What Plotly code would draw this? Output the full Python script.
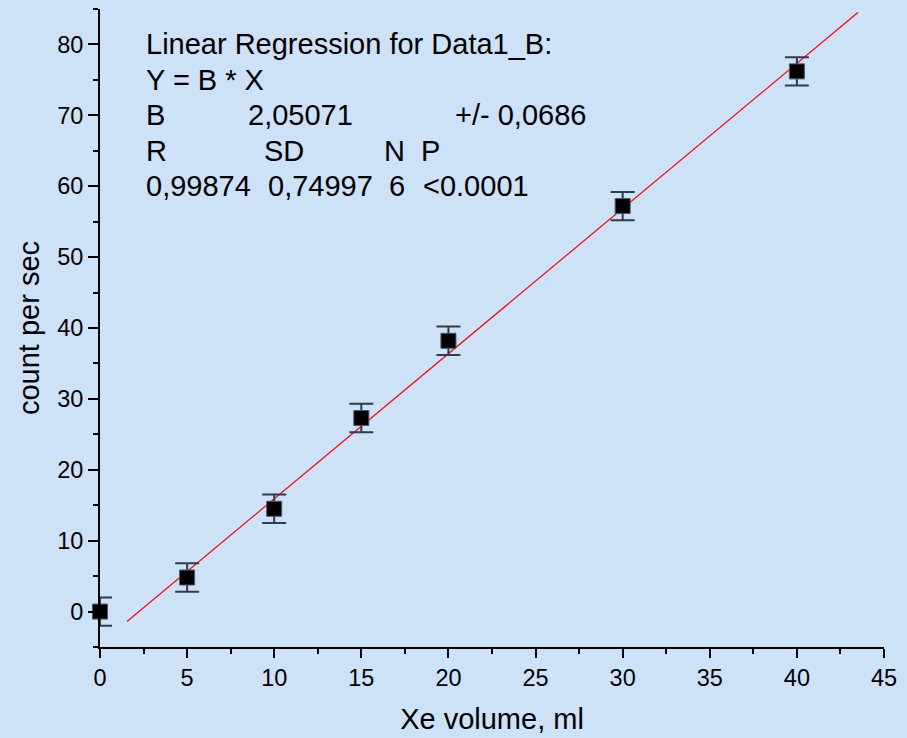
import plotly.graph_objects as go

# Data
xe_volume = [0, 5, 10, 15, 20, 30, 40]
counts = [0.0, 4.8, 14.5, 27.3, 38.2, 57.2, 76.2]
errors = [2.0, 2.0, 2.0, 2.0, 2.0, 2.0, 2.0]

fit_x = [1.55, 43.5]
fit_y = [-1.4, 84.5]

x_ticks = [0, 5, 10, 15, 20, 25, 30, 35, 40, 45]
y_ticks = [0, 10, 20, 30, 40, 50, 60, 70, 80]

bg = "#cde1f7"
font_family = "Liberation Sans, Arial, sans-serif"

fig = go.Figure()

fig.add_trace(go.Scatter(
    x=fit_x, y=fit_y, mode="lines",
    line=dict(color="#ff0000", width=1.2),
    showlegend=False, hoverinfo="skip",
))

fig.add_trace(go.Scatter(
    x=xe_volume, y=counts, mode="markers",
    marker=dict(symbol="square", size=15, color="black",
                line=dict(color="#4a5a6a", width=1)),
    error_y=dict(type="data", array=errors, visible=True,
                 color="#2f3c4a", thickness=2, width=12),
    showlegend=False,
    cliponaxis=False,
))

text_font = dict(family=font_family, size=29, color="black")
rows = [
    (2.55, 80, "Linear Regression for Data1_B:"),
    (2.55, 75, "Y = B * X"),
    (2.55, 70, "B"),
    (8.4, 70, "2,05071"),
    (20.25, 70, "+/- 0,0686"),
    (2.55, 65, "R"),
    (9.3, 65, "SD"),
    (16.2, 65, "N"),
    (18.3, 65, "P"),
    (2.55, 60, "0,99874"),
    (9.5, 60, "0,74997"),
    (16.5, 60, "6"),
    (18.45, 60, "<0.0001"),
]
for x, y, t in rows:
    fig.add_annotation(x=x, y=y, xref="x", yref="y", text=t, showarrow=False,
                       xanchor="left", yanchor="middle", font=text_font)

axis_common = dict(
    showline=True, linecolor="black", linewidth=2,
    ticks="outside", tickcolor="black", tickwidth=2,
    showgrid=False, zeroline=False, mirror=False,
    tickfont=dict(family=font_family, size=23.5, color="black"),
)

fig.update_xaxes(
    range=[0, 45], tickvals=x_ticks, ticklen=9,
    minor=dict(dtick=2.5, tick0=0, ticks="outside", ticklen=5,
               tickcolor="black", tickwidth=2),
    title=dict(text="Xe volume, ml", standoff=18,
               font=dict(family=font_family, size=29, color="black")),
    **axis_common,
)
fig.update_yaxes(
    range=[-5, 85], tickvals=y_ticks, ticklen=10,
    minor=dict(dtick=5, tick0=0, ticks="outside", ticklen=5,
               tickcolor="black", tickwidth=2),
    title=dict(text="count per sec", standoff=9,
               font=dict(family=font_family, size=29, color="black")),
    **axis_common,
)

fig.update_layout(
    width=907, height=738,
    margin=dict(l=100, r=23, t=9, b=91),
    paper_bgcolor=bg, plot_bgcolor=bg,
)

fig.write_html(
    "out.html",
    config={"displayModeBar": False},
    post_script="document.body.style.margin='0';document.body.style.background='%s';" % bg,
)
